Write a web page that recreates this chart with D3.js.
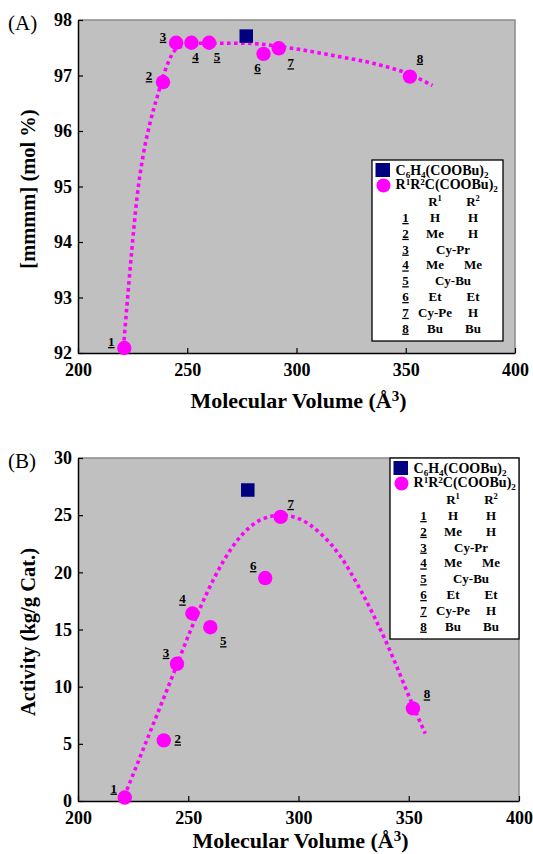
<!DOCTYPE html>
<html>
<head>
<meta charset="utf-8">
<script src="https://cdn.jsdelivr.net/npm/d3@7"></script>
<style>
  body { margin: 0; background: #fff; }
  svg text { font-family: "Liberation Serif", "Times New Roman", "DejaVu Serif", serif !important; }
</style>
</head>
<body>
<svg id="chart" width="533" height="854"></svg>
<script>
// compounds R1R2C(COOBu)2, numbered 1..8
const compounds = ["1", "2", "3", "4", "5", "6", "7", "8"];
const volume = [221.2, 238.9, 244.9, 251.9, 260.0, 284.9, 291.9, 351.9];
const mmmm = [92.09, 96.88, 97.59, 97.59, 97.59, 97.39, 97.49, 96.98];
const activity = [0.3, 5.3, 12.0, 16.4, 15.2, 19.5, 24.85, 8.1];

// C6H4(COOBu)2 reference donor
const phthVolume = 277.0;
const phthMmmm = 97.71;
const phthActivity = 27.2;

// dotted trend lines
const fitAx = [220.8, 222.5, 224.5, 227.0, 230.0, 233.0, 236.5, 240.0, 243.0, 247.0, 255.0, 277.0, 297.8, 319.5, 335.0, 351.8, 362.2];
const fitAy = [92.1, 92.9, 93.8, 94.8, 95.6, 96.15, 96.65, 97.1, 97.38, 97.52, 97.58, 97.58, 97.49, 97.34, 97.22, 97.02, 96.82];
const fitBx = [221.0, 232.0, 243.0, 251.0, 258.0, 266.0, 274.0, 283.0, 292.0, 300.0, 310.0, 319.0, 328.0, 340.0, 352.0, 357.5];
const fitBy = [0.4, 5.7, 11.0, 14.9, 18.0, 21.0, 23.2, 24.6, 25.0, 24.7, 23.4, 21.4, 18.5, 13.8, 8.3, 5.9];

// axes
const xTicks = [200, 250, 300, 350, 400];
const yTicksA = [92, 93, 94, 95, 96, 97, 98];
const yTicksB = [0, 5, 10, 15, 20, 25, 30];

// legend table
const legendR1 = ["H", "Me", "Cy-Pr", "Me", "Cy-Bu", "Et", "Cy-Pe", "Bu"];
const legendR2 = ["H", "H", "", "Me", "", "Et", "H", "Bu"];

// label offsets (px) next to each point
const offA = [[-13, -2], [-14, -2], [-13, -2], [4, 18], [8, 18], [-6, 18], [12, 19], [10, -14]];
const offB = [[-11, -5], [14, 3], [-11, -7], [-10, -10], [13, 18], [-12, -8], [10, -9], [14, -10]];

const MAG = "#ff00ff", NAVY = "#000080";
const svg = d3.select("#chart");

function rich(sel, segs, size) {
    segs.forEach(s => {
        const t = sel.append("tspan").text(s.t);
        if (s.sub) t.attr("font-size", size * 0.65).attr("dy", size * 0.22);
        else if (s.sup) t.attr("font-size", size * 0.65).attr("dy", -size * 0.3);
        if (s.back) t.attr("dy", s.back * size);
    });
}

const phthText = [{t: "C"}, {t: "6", sub: true}, {t: "H", back: -0.22}, {t: "4", sub: true}, {t: "(COOBu)", back: -0.22}, {t: "2", sub: true}];
const malText = [{t: "R"}, {t: "1", sup: true}, {t: "R", back: 0.3}, {t: "2", sup: true}, {t: "C(COOBu)", back: 0.3}, {t: "2", sub: true}];

function panel(o) {
    const g = svg.append("g");
    const x = d3.scaleLinear().domain([200, 400]).range([o.x0, o.x1]);
    const y = d3.scaleLinear().domain(o.yDomain).range([o.y1, o.y0]);

    g.append("rect")
        .attr("x", o.x0).attr("y", o.y0)
        .attr("width", o.x1 - o.x0).attr("height", o.y1 - o.y0)
        .attr("fill", "#c0c0c0");
    // top and right frame
    g.append("path")
        .attr("d", `M${o.x0},${o.y0}H${o.x1}V${o.y1}`)
        .attr("fill", "none").attr("stroke", "#8a8a8a").attr("stroke-width", 1.5);

    const xa = g.append("g")
        .attr("transform", `translate(0,${o.y1})`)
        .call(d3.axisBottom(x).tickValues(xTicks).tickFormat(d3.format("d"))
            .tickSizeInner(-5).tickSizeOuter(0).tickPadding(10));
    const ya = g.append("g")
        .attr("transform", `translate(${o.x0},0)`)
        .call(d3.axisLeft(y).tickValues(o.yTicks).tickFormat(d3.format("d"))
            .tickSizeInner(-5).tickSizeOuter(0).tickPadding(6));
    [xa, ya].forEach(a => {
        a.attr("font-family", null);
        a.select(".domain").attr("stroke", "#000").attr("stroke-width", 1.5);
        a.selectAll(".tick line").attr("stroke", "#000").attr("stroke-width", 1.2);
        a.selectAll(".tick text")
            .attr("font-weight", "bold").attr("font-size", 18).attr("fill", "#000");
    });

    // dotted fit
    const pts = o.fitX.map((v, i) => [v, o.fitY[i]]);
    g.append("path")
        .datum(pts)
        .attr("d", d3.line().x(d => x(d[0])).y(d => y(d[1])).curve(d3.curveMonotoneX))
        .attr("fill", "none").attr("stroke", MAG)
        .attr("stroke-width", 3.6).attr("stroke-dasharray", "3.6,3.4");

    // square
    const sq = 13.5;
    g.append("rect")
        .attr("x", x(phthVolume) - sq / 2).attr("y", y(o.phth) - sq / 2)
        .attr("width", sq).attr("height", sq).attr("fill", NAVY);

    // circles
    g.selectAll("circle.pt")
        .data(volume)
        .join("circle")
        .attr("class", "pt")
        .attr("cx", d => x(d))
        .attr("cy", (d, i) => y(o.vals[i]))
        .attr("r", 7.2)
        .attr("fill", MAG);

    g.selectAll("text.num")
        .data(compounds)
        .join("text")
        .attr("class", "num")
        .attr("x", (d, i) => x(volume[i]) + o.off[i][0])
        .attr("y", (d, i) => y(o.vals[i]) + o.off[i][1])
        .attr("text-anchor", "middle")
        .attr("font-weight", "bold").attr("font-size", 13)
        .style("text-decoration", "underline")
        .text(d => d);

    // axis titles
    const xt = g.append("text")
        .attr("x", (o.x0 + o.x1) / 2 + 2).attr("y", o.titleY)
        .attr("text-anchor", "middle")
        .attr("font-weight", "bold").attr("font-size", 22);
    xt.append("tspan").text("Molecular Volume (Å");
    xt.append("tspan").text("3").attr("font-size", 15).attr("dy", -7);
    xt.append("tspan").text(")").attr("dy", 7);

    g.append("text")
        .attr("transform", `translate(35,${o.yTitleC}) rotate(-90)`)
        .attr("text-anchor", "middle")
        .attr("font-weight", "bold").attr("font-size", 20.5)
        .text(o.yTitle);

    g.append("text")
        .attr("x", 8).attr("y", o.y0 + 10)
        .attr("font-size", 21)
        .text(o.tag);

    // legend
    const L = g.append("g").attr("transform", `translate(${o.lx},${o.ly})`);
    L.append("rect")
        .attr("width", o.lw).attr("height", o.lh)
        .attr("fill", "#fff").attr("stroke", "#000").attr("stroke-width", 1.3);
    L.append("rect").attr("x", 3.5).attr("y", 3).attr("width", 14.5).attr("height", 14).attr("fill", NAVY);
    L.append("circle").attr("cx", 11.5).attr("cy", 25.5).attr("r", 7).attr("fill", MAG);
    const t1 = L.append("text").attr("x", 23.5).attr("y", 14.5)
        .attr("font-weight", "bold").attr("font-size", 14);
    rich(t1, phthText, 14);
    const t2 = L.append("text").attr("x", 23.5).attr("y", 29)
        .attr("font-weight", "bold").attr("font-size", 14);
    rich(t2, malText, 14);

    const hdr = [["R", "1", 63], ["R", "2", 101]];
    hdr.forEach(h => {
        const t = L.append("text").attr("x", h[2]).attr("y", 45.5)
            .attr("text-anchor", "middle").attr("font-weight", "bold").attr("font-size", 13);
        t.append("tspan").text(h[0]);
        t.append("tspan").text(h[1]).attr("font-size", 8.5).attr("dy", -4.5);
    });

    compounds.forEach((c, i) => {
        const yy = 62 + i * 15.8;
        L.append("text").attr("x", 33.5).attr("y", yy)
            .attr("text-anchor", "middle").attr("font-weight", "bold").attr("font-size", 13)
            .style("text-decoration", "underline").text(c);
        const span = legendR2[i] === "";
        L.append("text").attr("x", span ? 81 : 63).attr("y", yy)
            .attr("text-anchor", "middle").attr("font-weight", "bold").attr("font-size", 13)
            .text(legendR1[i]);
        if (!span) {
            L.append("text").attr("x", 101).attr("y", yy)
                .attr("text-anchor", "middle").attr("font-weight", "bold").attr("font-size", 13)
                .text(legendR2[i]);
        }
    });
}

panel({
    x0: 78, x1: 515, y0: 20, y1: 353,
    yDomain: [92, 98], yTicks: yTicksA,
    vals: mmmm, phth: phthMmmm,
    fitX: fitAx, fitY: fitAy, off: offA,
    titleY: 408, yTitle: "[mmmm] (mol %)", yTitleC: 189, tag: "(A)",
    lx: 372, ly: 160, lw: 131, lh: 181
});

panel({
    x0: 78, x1: 519, y0: 458, y1: 801,
    yDomain: [0, 30], yTicks: yTicksB,
    vals: activity, phth: phthActivity,
    fitX: fitBx, fitY: fitBy, off: offB,
    titleY: 848, yTitle: "Activity (kg/g Cat.)", yTitleC: 632, tag: "(B)",
    lx: 390, ly: 458, lw: 129, lh: 181
});
</script>
</body>
</html>
